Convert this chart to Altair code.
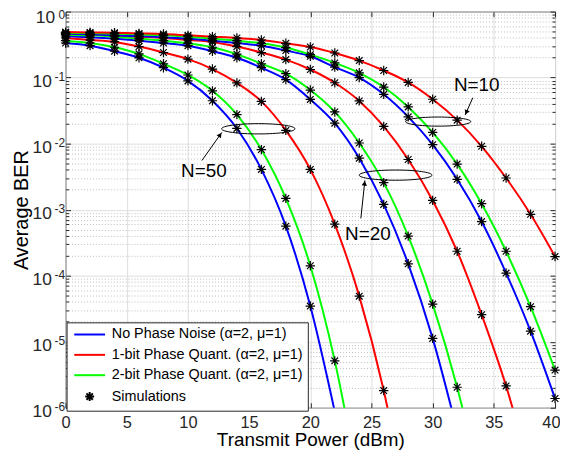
import math
import altair as alt
import pandas as pd

# ---------------- data ----------------
x_dbm = list(range(0, 42, 2))

LBL_NONE = "No Phase Noise (α=2, μ=1)"
LBL_1BIT = "1-bit Phase Quant. (α=2, μ=1)"
LBL_2BIT = "2-bit Phase Quant. (α=2, μ=1)"
LBL_SIM = "Simulations"

# log10(average BER) at x = 0, 2, 4, ... dBm
n50_none = [-0.476, -0.516, -0.60, -0.70, -0.85, -1.05, -1.35, -1.77, -2.39, -3.25, -4.46, -6.06]
n50_2bit = [-0.44, -0.476, -0.54, -0.64, -0.79, -0.96, -1.20, -1.56, -2.09, -2.83, -3.85, -5.29, -7.2]
n50_1bit = [-0.40, -0.43, -0.46, -0.53, -0.62, -0.72, -0.87, -1.08, -1.36, -1.80, -2.39, -3.22, -4.31, -5.74, -7.6]
n20_none = [-0.37, -0.39, -0.41, -0.44, -0.476, -0.516, -0.60, -0.70, -0.85, -1.03, -1.33, -1.69, -2.22,
            -2.92, -3.82, -4.95, -6.35]
n20_2bit = [-0.35, -0.36, -0.38, -0.41, -0.44, -0.48, -0.54, -0.645, -0.79, -0.94, -1.188, -1.52, -1.99,
            -2.59, -3.40, -4.43, -5.69, -7.24]
n20_1bit = [-0.33, -0.34, -0.36, -0.38, -0.40, -0.43, -0.46, -0.53, -0.62, -0.727, -0.877, -1.078, -1.353,
            -1.739, -2.24, -2.86, -3.63, -4.59, -5.67, -7.0]
n10_none = [-0.335, -0.345, -0.36, -0.37, -0.39, -0.41, -0.44, -0.476, -0.516, -0.59, -0.677, -0.842, -1.0,
            -1.253, -1.594, -2.015, -2.54, -3.18, -3.96, -4.84, -5.86]
n10_2bit = [-0.32, -0.325, -0.33, -0.345, -0.36, -0.38, -0.41, -0.44, -0.48, -0.545, -0.652, -0.777, -0.927,
            -1.143, -1.444, -1.83, -2.31, -2.91, -3.63, -4.47, -5.43]
n10_1bit = [-0.31, -0.315, -0.32, -0.33, -0.34, -0.36, -0.38, -0.40, -0.43, -0.48, -0.536, -0.627, -0.742,
            -0.892, -1.073, -1.328, -1.644, -2.04, -2.52, -3.07, -3.71]

series = [
    ("N=50", LBL_NONE, n50_none), ("N=50", LBL_2BIT, n50_2bit), ("N=50", LBL_1BIT, n50_1bit),
    ("N=20", LBL_NONE, n20_none), ("N=20", LBL_2BIT, n20_2bit), ("N=20", LBL_1BIT, n20_1bit),
    ("N=10", LBL_NONE, n10_none), ("N=10", LBL_2BIT, n10_2bit), ("N=10", LBL_1BIT, n10_1bit),
]

# annotations (data coordinates)
ann_text = ["N=50", "N=20", "N=10"]
ann_text_x = [11.3, 24.7, 33.6]
ann_text_e = [-2.41, -3.37, -1.11]
ell_x = [15.75, 26.97, 30.45]
ell_e = [-1.775, -2.477, -1.666]
ell_w = [6.0, 5.95, 5.33]
arr_x1 = [11.14, 24.13, 33.28]
arr_e1 = [-2.256, -3.132, -1.304]
arr_x2 = [12.77, 24.46, 32.65]
arr_e2 = [-1.83, -2.556, -1.568]

# ---------------- build tables ----------------
rows = []
for n, kind, vals in series:
    for x, v in zip(x_dbm, vals):
        rows.append({"x": x, "ber": 10.0 ** v, "curve": n + kind, "legend": kind})
lines_df = pd.DataFrame(rows)
pts_df = lines_df[lines_df["ber"] >= 1e-6].copy()
pts_df["legend"] = LBL_SIM

W, H = 493, 399
PX_X = W / 40.0
PX_D = H / 6.0

ell_df = pd.DataFrame({"x": ell_x, "ber": [10.0 ** e for e in ell_e],
                       "size": [(w * PX_X) ** 2 for w in ell_w]})
arr_df = pd.DataFrame({"x": arr_x1, "ber": [10.0 ** e for e in arr_e1],
                       "x2": arr_x2, "ber2": [10.0 ** e for e in arr_e2]})
heads = []
for x1, e1, x2, e2 in zip(arr_x1, arr_e1, arr_x2, arr_e2):
    dx = (x2 - x1) * PX_X
    dy = -(e2 - e1) * PX_D
    L = math.hypot(dx, dy)
    ang = math.degrees(math.atan2(dx, -dy)) % 360
    back = 3.0
    hx = x2 - (dx / L) * back / PX_X
    he = e2 + (dy / L) * back / PX_D
    heads.append({"x": hx, "ber": 10.0 ** he, "angle": ang})
head_df = pd.DataFrame(heads)
text_df = pd.DataFrame({"x": ann_text_x, "ber": [10.0 ** e for e in ann_text_e], "label": ann_text})

# ---------------- styling ----------------
FONT = "Liberation Sans"
AX = "#262626"
major_y = [10.0 ** e for e in range(-6, 1)]
minor_y = [m * 10.0 ** e for e in range(-6, 0) for m in range(2, 10)]
major_x = list(range(0, 41, 5))

xs = alt.Scale(domain=[0, 40], nice=False)
ys = alt.Scale(type="log", domain=[1e-6, 1], nice=False)

STAR = "M0,-0.9L0,0.9M-0.9,0L0.9,0M-0.64,-0.64L0.64,0.64M-0.64,0.64L0.64,-0.64"
LINE = "M-3.1,0L3.1,0"
leg_domain = [LBL_NONE, LBL_1BIT, LBL_2BIT, LBL_SIM]
color_scale = alt.Scale(domain=leg_domain, range=["#0000ff", "#ff0000", "#00ff00", "#000000"])
shape_scale = alt.Scale(domain=leg_domain, range=[LINE, LINE, LINE, STAR])

legend = alt.Legend(title=None, orient="none", legendX=1, legendY=313, direction="vertical",
                    symbolSize=100, symbolStrokeWidth=2, symbolOffset=11, labelOffset=15,
                    labelFont=FONT, labelFontSize=14.5, labelColor="black", rowPadding=5.5,
                    padding=5, strokeColor=AX, fillColor="white", cornerRadius=0,
                    labelLimit=400)


def tick_axis(orient, offset, values, size):
    return alt.Axis(orient=orient, offset=offset, values=values, tickSize=size, tickColor=AX,
                    tickWidth=1, labels=False, domain=False, grid=False, title=None)


def cond(test, yes, no):
    return {"condition": {"test": test, "value": yes}, "value": no}


x_main = alt.Axis(orient="bottom", values=major_x, title="Transmit Power (dBm)", grid=True,
                  gridColor="#dedede", gridWidth=1, ticks=False, tickSize=0, domain=False,
                  labelFont=FONT, labelFontSize=16.5, labelColor=AX, labelPadding=7,
                  labelAlign=cond("datum.value == 40", "right", "center"),
                  labelOffset=cond("datum.value == 40", 5, 0),
                  labelFlush=False, labelOverlap=False, titleFont=FONT, titleFontSize=19,
                  titleFontWeight="normal", titleColor="black", titlePadding=0)
y_base = alt.Axis(orient="left", values=major_y, labelExpr="'10'",
                  labelFont=FONT, labelFontSize=17.5, labelColor=AX,
                  labelPadding=cond("datum.value == 1", 11, 14.3),
                  labelOffset=cond("datum.value == 1", 6, 4),
                  labelBaseline="middle", labelFlush=False, labelOverlap=False,
                  ticks=False, tickSize=0, domain=False, grid=True, gridColor="#dedede",
                  title="Average BER", titleFont=FONT, titleFontSize=20, titleFontWeight="normal",
                  titleColor="black", titlePadding=1)
y_exp = alt.Axis(orient="left", values=major_y, labelExpr="'' + round(log(datum.value) / LN10)",
                 labelFont=FONT, labelFontSize=12, labelColor=AX, labelPadding=1,
                 labelOffset=cond("datum.value == 1", 2.5, -1.5),
                 labelBaseline="middle", labelFlush=False, labelOverlap=False,
                 ticks=False, tickSize=0, domain=False, grid=False, title=None)
y_minor = alt.Axis(orient="right", offset=-W, values=minor_y, tickSize=3, tickColor=AX,
                   labels=False, domain=False, grid=True, gridDash=[1, 2], gridColor="#bdbdbd",
                   title=None)

lines = alt.Chart(lines_df).mark_line(strokeWidth=2, interpolate="monotone", clip=True).encode(
    x=alt.X("x:Q", scale=xs, axis=x_main),
    y=alt.Y("ber:Q", scale=ys, axis=y_base),
    color=alt.Color("legend:N", scale=color_scale, legend=legend),
    detail="curve:N",
)
points = alt.Chart(pts_df).mark_point(filled=False, strokeWidth=1.2, opacity=1).encode(
    x=alt.X("x:Q", scale=xs, axis=tick_axis("bottom", -H, major_x, 5)),
    y=alt.Y("ber:Q", scale=ys, axis=y_exp),
    color=alt.Color("legend:N", scale=color_scale, legend=legend),
    shape=alt.Shape("legend:N", scale=shape_scale, legend=legend),
    size=alt.value(110),
)
ellipses = alt.Chart(ell_df).mark_point(
    shape="M-1,0A1,0.14,0,1,1,1,0A1,0.14,0,1,1,-1,0", filled=False, stroke="black",
    strokeWidth=1, opacity=1).encode(
    x=alt.X("x:Q", scale=xs, axis=tick_axis("top", -H, major_x, 5)),
    y=alt.Y("ber:Q", scale=ys, axis=y_minor),
    size=alt.Size("size:Q", scale=None),
)
arrows = alt.Chart(arr_df).mark_rule(color="black", strokeWidth=1).encode(
    x=alt.X("x:Q", scale=xs, axis=None),
    y=alt.Y("ber:Q", scale=ys, axis=tick_axis("right", -W, major_y, 5)),
    x2="x2:Q",
    y2="ber2:Q",
)
arrowheads = alt.Chart(head_df).mark_point(shape="triangle-up", filled=True, color="black",
                                           opacity=1, size=30).encode(
    x=alt.X("x:Q", scale=xs, axis=None),
    y=alt.Y("ber:Q", scale=ys, axis=tick_axis("left", -W, major_y, 5)),
    angle=alt.Angle("angle:Q", scale=None),
)
texts = alt.Chart(text_df).mark_text(font=FONT, fontSize=19, color="black", align="center",
                                     baseline="middle").encode(
    x=alt.X("x:Q", scale=xs, axis=None),
    y=alt.Y("ber:Q", scale=ys, axis=tick_axis("left", -W, minor_y, 3)),
    text="label:N",
)

chart = alt.layer(lines, points, ellipses, arrows, arrowheads, texts).resolve_axis(
    x="independent", y="independent"
).properties(
    width=W, height=H,
    autosize=alt.AutoSizeParams(type="none"),
    padding={"left": 58, "top": 2, "right": 5, "bottom": 47},
    background="white",
).configure_view(stroke=AX, strokeWidth=1)

chart.save("out.html", embed_options={"renderer": "svg", "actions": False})
